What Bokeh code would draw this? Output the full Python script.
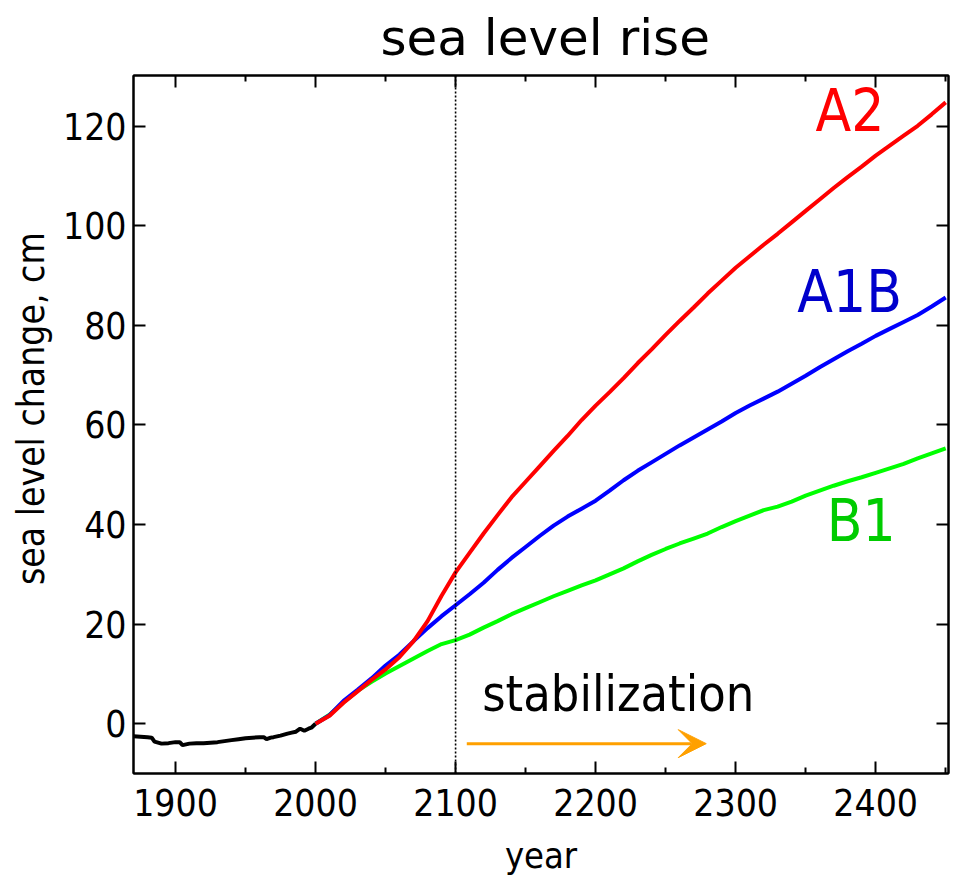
from bokeh.plotting import figure
from bokeh.models import (LinearAxis, FixedTicker, Range1d, Span, Arrow, VeeHead,
                          ColumnDataSource, Label)
from bokeh.core.properties import value
from bokeh.embed import file_html
from bokeh.resources import INLINE

FONT = "DejaVu Sans Condensed"
TITLE_FONT = "DejaVu Sans"

# ---- data ----
hist_years = [1870, 1875, 1880, 1883, 1885, 1890, 1895, 1900, 1903, 1905, 1910, 1915,
              1920, 1925, 1930, 1935, 1940, 1945, 1950, 1955, 1960, 1963, 1965, 1968,
              1970, 1975, 1980, 1983, 1986, 1989, 1992, 1995, 1997, 2000]
hist_level = [-2.5, -2.6, -2.7, -2.8, -3.6, -4.0, -3.9, -3.7, -3.7, -4.3, -4.0, -3.9,
              -3.9, -3.8, -3.7, -3.5, -3.3, -3.1, -2.9, -2.8, -2.7, -2.7, -3.1, -2.8,
              -2.7, -2.4, -2.0, -1.8, -1.6, -1.0, -1.4, -1.0, -0.8, 0.0]

proj_years = [2000, 2010, 2020, 2030, 2040, 2050, 2060, 2070, 2080, 2090,
              2100, 2110, 2120, 2130, 2140, 2150, 2160, 2170, 2180, 2190,
              2200, 2210, 2220, 2230, 2240, 2250, 2260, 2270, 2280, 2290,
              2300, 2310, 2320, 2330, 2340, 2350, 2360, 2370, 2380, 2390,
              2400, 2410, 2420, 2430, 2440, 2450]
a2 = [0, 1.6, 4.2, 6.5, 8.8, 10.9, 13.4, 16.6, 20.6, 25.7,
      30.4, 34.3, 38.2, 41.9, 45.5, 48.6, 51.7, 54.8, 57.8, 61.0,
      63.9, 66.6, 69.4, 72.4, 75.2, 78.1, 80.9, 83.6, 86.4, 89.0,
      91.6, 93.9, 96.2, 98.4, 100.7, 103.0, 105.3, 107.6, 109.8, 111.9,
      114.1, 116.1, 118.1, 120.1, 122.4, 124.8]
a1b = [0, 1.7, 4.6, 6.8, 9.1, 11.7, 13.9, 16.6, 19.2, 21.6,
       23.8, 26.0, 28.3, 30.9, 33.3, 35.5, 37.7, 39.8, 41.6, 43.2,
       44.8, 46.8, 48.9, 50.8, 52.5, 54.2, 55.9, 57.5, 59.1, 60.7,
       62.4, 63.9, 65.3, 66.7, 68.3, 69.9, 71.6, 73.2, 74.8, 76.3,
       77.9, 79.3, 80.7, 82.1, 83.8, 85.6]
b1 = [0, 1.8, 4.3, 6.6, 8.4, 10.1, 11.6, 13.1, 14.6, 16.0,
      16.8, 17.9, 19.3, 20.6, 22.0, 23.2, 24.4, 25.6, 26.7, 27.8,
      28.8, 30.0, 31.2, 32.6, 33.9, 35.1, 36.2, 37.2, 38.2, 39.5,
      40.7, 41.8, 42.9, 43.6, 44.6, 45.8, 46.8, 47.8, 48.7, 49.5,
      50.4, 51.3, 52.2, 53.3, 54.3, 55.3]

x_ticks = [1900, 2000, 2100, 2200, 2300, 2400]
x_minor = [1850, 1950, 2050, 2150, 2250, 2350, 2450]
y_ticks = [0, 20, 40, 60, 80, 100, 120]

series_names = ["A2", "A1B", "B1"]
series_label_colors = ["#ff0000", "#0000cc", "#00cc00"]
series_label_x = [2357, 2344, 2365]
series_label_y = [123.0, 86.8, 40.7]

stab_text = "stabilization"
stab_x, stab_y = 2119, 5.9
arrow_x = [2108, 2279]
arrow_y = -4.0
marker_year = 2100

title_text = "sea level rise"
xlabel_text = "year"
ylabel_text = "\u00a0\u00a0\u00a0sea level change, cm"

# ---- figure ----
p = figure(width=955, height=881, output_backend="svg", toolbar_location=None,
           x_range=Range1d(1870, 2452), y_range=Range1d(-10, 130.2),
           min_border_left=133, min_border_right=7, min_border_top=75,
           min_border_bottom=108)
p.xaxis.visible = False
p.yaxis.visible = False
p.xgrid.visible = False
p.ygrid.visible = False
p.outline_line_color = "black"
p.outline_line_width = 2
p.background_fill_color = "white"
p.border_fill_color = "white"

p.title.text = title_text
p.title.align = "left"
p.title.vertical_align = "top"
p.title.text_font = TITLE_FONT
p.title.text_font_size = "50px"
p.title.text_font_style = "normal"
p.title.text_color = "black"
p.title.offset = 247
p.title.standoff = 13

def style_axis(ax, ticks, minor, labels=True, standoff=8, label_text=None,
               label_standoff=14, label_size="36px"):
    ax.ticker = FixedTicker(ticks=ticks, minor_ticks=minor)
    ax.axis_line_color = "black"
    ax.axis_line_width = 2
    ax.major_tick_in = 12
    ax.major_tick_out = 0
    ax.minor_tick_in = 6
    ax.minor_tick_out = 0
    ax.major_tick_line_width = 2
    ax.minor_tick_line_width = 2
    if labels:
        ax.major_label_text_font = FONT
        ax.major_label_text_font_size = "37px"
        ax.major_label_text_color = "black"
        ax.major_label_standoff = standoff
    else:
        ax.major_label_text_font_size = "0px"
        ax.major_label_standoff = 0
    if label_text:
        ax.axis_label = label_text
        ax.axis_label_text_font = FONT
        ax.axis_label_text_font_size = label_size
        ax.axis_label_text_font_style = "normal"
        ax.axis_label_text_color = "black"
        ax.axis_label_standoff = label_standoff

bx = LinearAxis(); style_axis(bx, x_ticks, x_minor, True, 15, xlabel_text, 16, "36px")
tx = LinearAxis(); style_axis(tx, x_ticks, x_minor, False)
ly = LinearAxis(); style_axis(ly, y_ticks, [], True, 7, ylabel_text, 7, "37px")
ry = LinearAxis(); style_axis(ry, y_ticks, [], False)
p.add_layout(bx, "below")
p.add_layout(tx, "above")
p.add_layout(ly, "left")
p.add_layout(ry, "right")

p.add_layout(Span(location=marker_year, dimension="height", line_color="black",
                  line_width=1.6, line_dash="2 2"))

p.line(hist_years, hist_level, line_color="black", line_width=4)
p.line(proj_years, b1, line_color="#00ff00", line_width=4)
p.line(proj_years, a1b, line_color="#0000ff", line_width=4)
p.line(proj_years, a2, line_color="#ff0000", line_width=4)

src = ColumnDataSource(dict(x=series_label_x, y=series_label_y, t=series_names,
                            c=series_label_colors))
p.text(x="x", y="y", text="t", text_color="c", source=src,
       text_font=value(FONT), text_font_size="58px", text_baseline="alphabetic")

p.add_layout(Label(x=stab_x, y=stab_y, text=stab_text, text_font=FONT,
                   text_font_size="50px", text_color="black",
                   text_baseline="alphabetic"))

orange = "#ffa000"
p.add_layout(Arrow(end=VeeHead(size=28, fill_color=orange, line_color=orange, line_width=1),
                   x_start=arrow_x[0], y_start=arrow_y, x_end=arrow_x[1], y_end=arrow_y,
                   line_color=orange, line_width=3))

open("out.html", "w").write(file_html(p, INLINE))
